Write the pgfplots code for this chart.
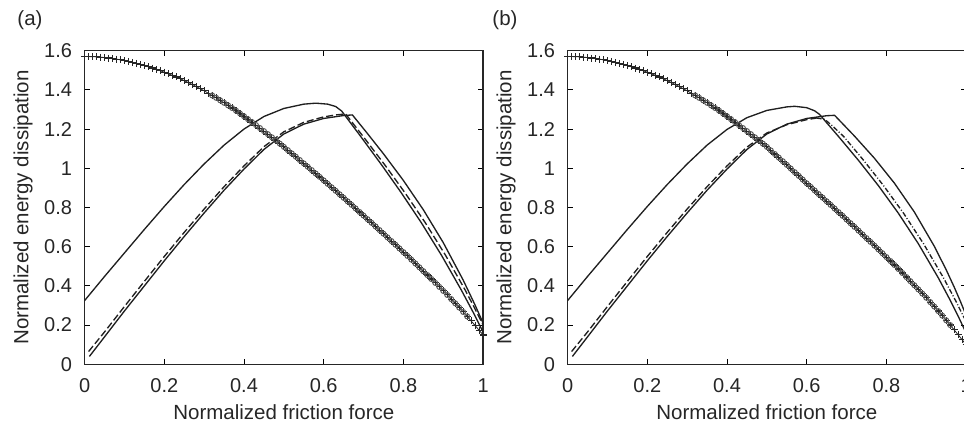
\documentclass[border=0pt]{standalone}
\usepackage{fontspec}
\setmainfont{Liberation Sans}
\usepackage{pgfplots}
\pgfplotsset{compat=1.18}
\usepackage{pgfplotstable}

\pgfplotstableread{
x ya yb
0.00 1.5700 1.5700
0.01 1.5698 1.5698
0.02 1.5692 1.5692
0.03 1.5681 1.5681
0.04 1.5666 1.5666
0.05 1.5648 1.5648
0.06 1.5624 1.5624
0.07 1.5597 1.5597
0.08 1.5566 1.5566
0.09 1.5530 1.5530
0.10 1.5490 1.5490
0.11 1.5446 1.5446
0.12 1.5399 1.5399
0.13 1.5349 1.5349
0.14 1.5295 1.5295
0.15 1.5238 1.5238
0.16 1.5177 1.5177
0.17 1.5113 1.5113
0.18 1.5045 1.5045
0.19 1.4974 1.4974
0.20 1.4900 1.4900
0.21 1.4822 1.4822
0.22 1.4740 1.4740
0.23 1.4655 1.4655
0.24 1.4566 1.4566
0.25 1.4473 1.4473
0.26 1.4376 1.4376
0.27 1.4275 1.4275
0.28 1.4170 1.4170
0.29 1.4062 1.4062
0.30 1.3950 1.3950
0.31 1.3834 1.3834
0.32 1.3716 1.3716
0.33 1.3594 1.3594
0.34 1.3468 1.3468
0.35 1.3340 1.3340
0.36 1.3208 1.3208
0.37 1.3074 1.3074
0.38 1.2936 1.2936
0.39 1.2794 1.2794
0.40 1.2650 1.2650
0.41 1.2503 1.2503
0.42 1.2354 1.2354
0.43 1.2203 1.2203
0.44 1.2050 1.2050
0.45 1.1895 1.1895
0.46 1.1738 1.1738
0.47 1.1579 1.1579
0.48 1.1418 1.1418
0.49 1.1255 1.1255
0.50 1.1090 1.1090
0.51 1.0924 1.0909
0.52 1.0756 1.0726
0.53 1.0588 1.0543
0.54 1.0418 1.0358
0.55 1.0248 1.0173
0.56 1.0076 0.9986
0.57 0.9904 0.9799
0.58 0.9730 0.9610
0.59 0.9556 0.9421
0.60 0.9380 0.9230
0.61 0.9204 0.9049
0.62 0.9027 0.8867
0.63 0.8849 0.8684
0.64 0.8670 0.8500
0.65 0.8491 0.8316
0.66 0.8311 0.8131
0.67 0.8131 0.7946
0.68 0.7950 0.7760
0.69 0.7768 0.7573
0.70 0.7585 0.7385
0.71 0.7402 0.7197
0.72 0.7218 0.7008
0.73 0.7033 0.6818
0.74 0.6847 0.6627
0.75 0.6661 0.6436
0.76 0.6474 0.6244
0.77 0.6287 0.6052
0.78 0.6099 0.5859
0.79 0.5910 0.5665
0.80 0.5720 0.5470
0.81 0.5529 0.5269
0.82 0.5337 0.5067
0.83 0.5143 0.4863
0.84 0.4948 0.4658
0.85 0.4751 0.4451
0.86 0.4553 0.4243
0.87 0.4353 0.4033
0.88 0.4152 0.3822
0.89 0.3949 0.3609
0.90 0.3745 0.3395
0.91 0.3538 0.3173
0.92 0.3327 0.2947
0.93 0.3112 0.2717
0.94 0.2893 0.2483
0.95 0.2670 0.2245
0.96 0.2443 0.2003
0.97 0.2212 0.1757
0.98 0.1977 0.1507
0.99 0.1738 0.1253
1.00 0.1495 0.0995
}\markdata

\pgfplotstableread{
x y
0.00 0.325
0.05 0.448
0.10 0.568
0.15 0.688
0.20 0.805
0.25 0.917
0.30 1.022
0.35 1.118
0.40 1.200
0.45 1.264
0.50 1.305
0.55 1.327
0.58 1.332
0.61 1.327
0.63 1.315
0.645 1.292
0.688 1.1756
0.745 1.018
0.795 0.874
0.845 0.722
0.895 0.558
0.945 0.380
0.975 0.2655
1.000 0.165
}\Aa

\pgfplotstableread{
x y
0.012 0.040
0.05 0.140
0.10 0.272
0.15 0.400
0.20 0.528
0.25 0.652
0.30 0.772
0.35 0.888
0.40 0.996
0.45 1.096
0.50 1.175
0.55 1.225
0.60 1.254
0.65 1.269
0.672 1.272
0.708 1.1817
0.750 1.0737
0.800 0.9376
0.850 0.7883
0.900 0.6207
0.950 0.4296
0.980 0.3016
1.000 0.210
}\Ba

\pgfplotstableread{
x y
0.010 0.065
0.05 0.165
0.10 0.295
0.15 0.423
0.20 0.550
0.25 0.673
0.30 0.792
0.35 0.906
0.40 1.012
0.45 1.110
0.50 1.186
0.55 1.234
0.60 1.262
0.63 1.272
0.655 1.277
0.700 1.1596
0.755 1.0126
0.805 0.872
0.855 0.722
0.905 0.5586
0.955 0.3787
0.980 0.2816
1.000 0.200
}\Ca

\pgfplotstableread{
x y
0.00 0.325
0.05 0.448
0.10 0.568
0.15 0.688
0.20 0.805
0.25 0.917
0.30 1.022
0.35 1.118
0.40 1.198
0.45 1.258
0.50 1.295
0.55 1.313
0.57 1.316
0.60 1.309
0.62 1.293
0.632 1.275
0.68 1.1616
0.73 1.040
0.78 0.911
0.83 0.7707
0.88 0.6156
0.93 0.4419
0.96 0.3271
0.98 0.2456
1.00 0.160
}\Ab

\pgfplotstableread{
x y
0.012 0.040
0.05 0.140
0.10 0.272
0.15 0.400
0.20 0.528
0.25 0.652
0.30 0.772
0.35 0.888
0.40 0.996
0.45 1.096
0.50 1.175
0.55 1.225
0.60 1.254
0.65 1.268
0.670 1.270
0.720 1.1639
0.770 1.0509
0.820 0.9243
0.870 0.7772
0.920 0.6028
0.950 0.4822
0.970 0.3943
0.985 0.3241
1.000 0.250
}\Bb

\pgfplotstableread{
x y
0.010 0.065
0.05 0.165
0.10 0.295
0.15 0.423
0.20 0.550
0.25 0.673
0.30 0.792
0.35 0.906
0.40 1.012
0.45 1.108
0.50 1.180
0.55 1.222
0.60 1.248
0.625 1.256
}\Cbr

\pgfplotstableread{
x y
0.625 1.256
0.645 1.250
0.665 1.215
0.693 1.1616
0.743 1.040
0.793 0.911
0.843 0.7707
0.893 0.6156
0.943 0.4419
0.973 0.3271
0.993 0.2456
1.000 0.220
}\Cbd

\pgfplotsset{
  myax/.style={
    width=239.1pt, height=188.2pt, scale only axis,
    anchor=south west,
    xmin=0, xmax=1, ymin=0, ymax=1.6,
    xtick={0,0.2,0.4,0.6,0.8,1},
    ytick={0,0.2,0.4,0.6,0.8,1,1.2,1.4,1.6},
    tick align=inside, major tick length=3pt,
    tick style={line width=0.5pt, black},
    axis line style={line width=0.8pt, black!85},
    /pgf/number format/assume math mode=true,
    tick label style={font=\fontsize{12}{14}\selectfont, text=black!85},
    xticklabel style={yshift=-5pt},
    yticklabel style={xshift=-4pt},
    label style={font=\fontsize{12.3}{14}\selectfont, text=black!85},
    xlabel={Normalized friction force},
    ylabel={Normalized energy dissipation},
    xlabel style={at={(axis description cs:0.5,-0.152)}, anchor=center},
    ylabel style={at={(axis description cs:-0.1546,0.5)}, anchor=center},
  },
  crv/.style={black!88, line width=0.8pt},
  plusm/.style={black!85, line width=0.5pt, mark=+, mark size=2.1pt, mark options={line width=0.65pt, solid}},
  circm/.style={only marks, black!65, mark=o, mark size=1.5pt, mark options={line width=0.6pt}},
}

\begin{document}
\begin{tikzpicture}
\path[use as bounding box] (0,0) rectangle (578.4pt,256.8pt);
\clip (0,0) rectangle (578.4pt,256.8pt);

\begin{axis}[myax, at={(50.76pt,38.22pt)}]
\addplot[plusm] table[x=x,y=ya]{\markdata};
\addplot[circm, restrict x to domain=0.32:0.965] table[x=x,y=ya]{\markdata};
\addplot[crv] table{\Aa};
\addplot[crv] table{\Ba};
\addplot[crv, dash pattern=on 4.2pt off 1.8pt] table{\Ca};
\end{axis}

\begin{axis}[myax, at={(340.56pt,38.22pt)}]
\addplot[plusm] table[x=x,y=yb]{\markdata};
\addplot[circm, restrict x to domain=0.32:0.965] table[x=x,y=yb]{\markdata};
\addplot[crv] table{\Ab};
\addplot[crv] table{\Bb};
\addplot[crv, dash pattern=on 4.2pt off 1.8pt] table{\Cbr};
\addplot[crv, dash pattern=on 3pt off 1.2pt on 0.6pt off 1.2pt] table{\Cbd};
\end{axis}

\node[font=\fontsize{12.3}{14}\selectfont, text=black!85] at (18pt,244.8pt) {(a)};
\node[font=\fontsize{12.3}{14}\selectfont, text=black!85] at (303pt,244.8pt) {(b)};
\end{tikzpicture}
\end{document}
